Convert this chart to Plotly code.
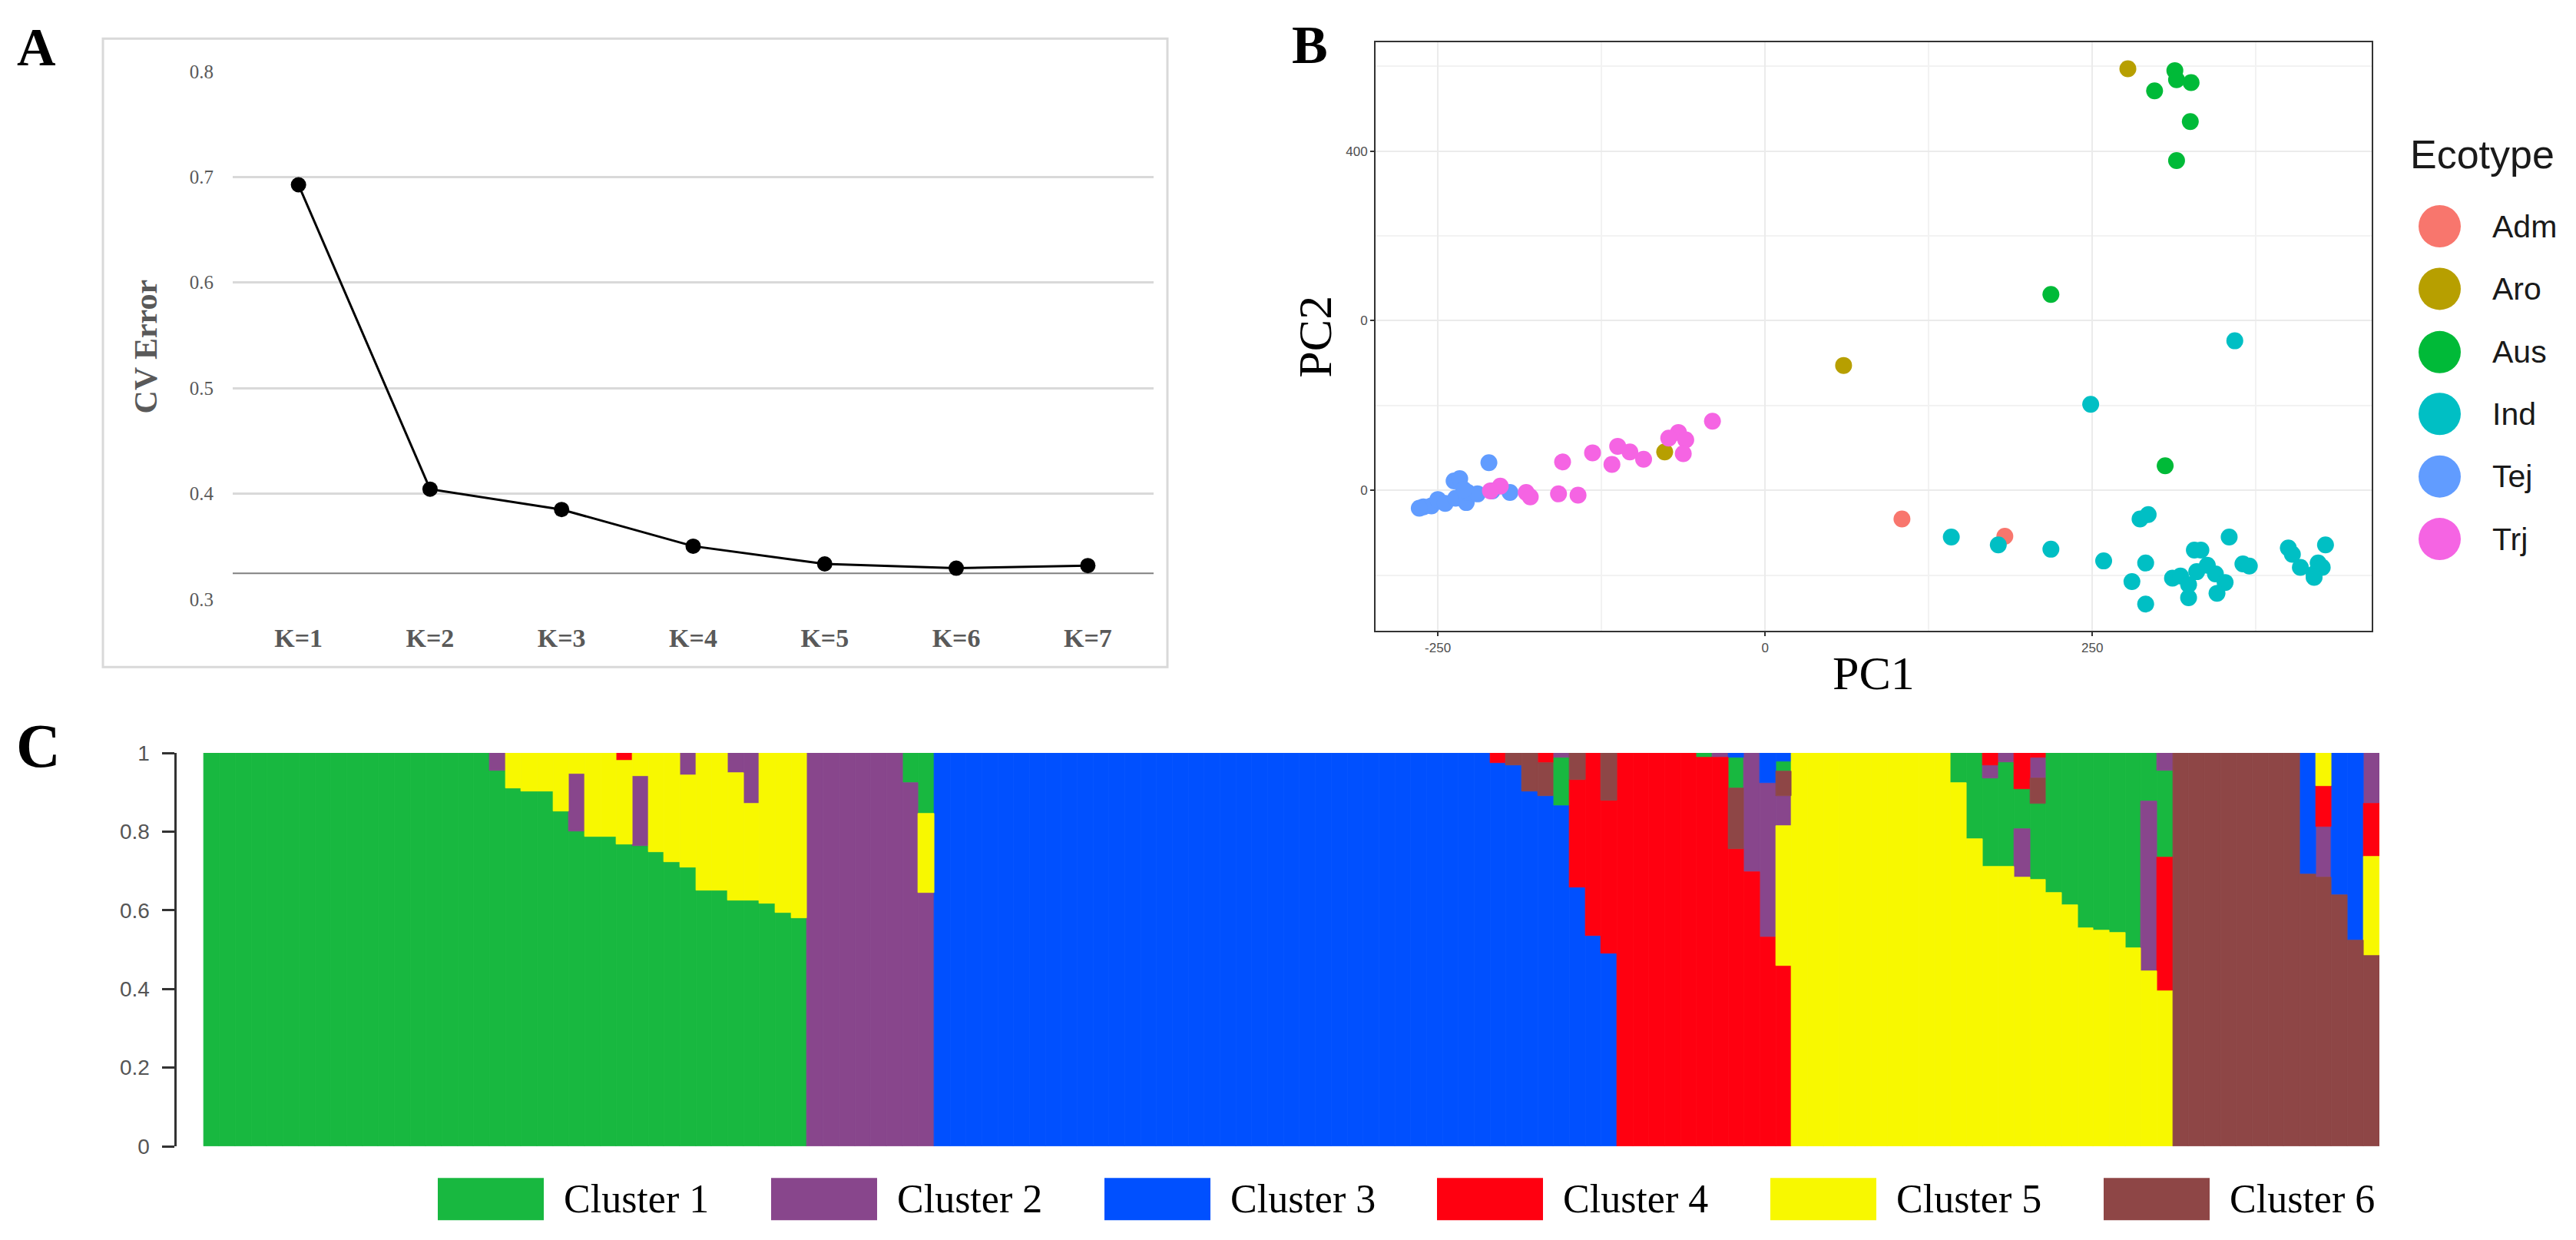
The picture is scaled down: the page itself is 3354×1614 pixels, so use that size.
import plotly.graph_objects as go

W, H = 3354, 1614

# ---------------- Panel A data ----------------
k_labels = ["K=1", "K=2", "K=3", "K=4", "K=5", "K=6", "K=7"]
cv_error = [0.6925, 0.4043, 0.3850, 0.3503, 0.3335, 0.3294, 0.3319]
cv_axis_line = 0.3245
cv_ticks = [0.3, 0.4, 0.5, 0.6, 0.7, 0.8]

# ---------------- Panel B data ----------------
ecotypes = ["Adm", "Aro", "Aus", "Ind", "Tej", "Trj"]
eco_colors = ["#F8766D", "#B79F00", "#00BA38", "#00BFC4", "#619CFF", "#F564E3"]
pc1_adm = [104.6, 183.2]
pc2_adm = [-33.6, -54.0]
pc1_aro = [277.2, 60.0, -76.7]
pc2_aro = [496.9, 147.3, 45.4]
pc1_aus = [313.1, 314.4, 325.5, 297.6, 324.9, 314.4, 218.4, 305.7]
pc2_aus = [494.8, 484.1, 480.6, 470.9, 434.7, 388.8, 230.9, 29.0]
pc1_ind = [358.9, 248.8, 286.5, 292.7, 142.3, 178.2, 218.4, 258.7, 290.8, 280.3,
           290.8, 311.3, 317.4, 323.6, 323.6, 328.0, 333.0, 329.8, 337.9, 344.1,
           351.5, 345.3, 354.6, 365.1, 370.0, 399.8, 402.9, 409.0, 419.5, 422.6,
           425.7, 419.5, 428.2]
pc2_ind = [176.3, 101.4, -33.6, -28.5, -55.0, -64.2, -69.3, -83.1, -85.6, -107.5,
           -134.0, -103.4, -100.9, -111.1, -126.4, -70.3, -70.3, -95.8, -88.2, -98.4,
           -108.5, -121.3, -55.0, -86.6, -89.2, -67.8, -75.4, -90.7, -98.4, -85.6,
           -90.7, -102.4, -64.2]
pc1_tej = [-211.0, -237.6, -233.3, -261.1, -254.9, -250.0, -244.4, -236.4, -228.3,
           -227.1, -219.7, -208.5, -194.9, -230.2, -264.2]
pc2_tej = [32.6, 11.2, 13.8, -19.4, -18.3, -10.7, -15.3, -9.2, -14.3, -2.5, -4.1,
           -0.5, -2.5, 1.0, -20.9]
pc1_trj = [-40.2, -66.2, -73.6, -60.6, -62.5, -92.8, -103.3, -112.6, -117.0, -131.8,
           -154.7, -157.8, -142.9, -182.5, -179.4, -202.3, -209.8]
pc2_trj = [81.5, 68.3, 61.7, 59.6, 43.3, 36.7, 45.4, 52.0, 30.6, 44.3, 33.6, -4.1,
           -5.6, -2.5, -7.6, 5.1, -0.5]
pc1_ticks = [-250, 0, 250]
pc2_ticks = [0, 200, 400]
pc2_ticktext = ["0", "0", "400"]

# ---------------- Panel C data (137 individuals, 6 clusters) ----------------
cluster_names = ["Cluster 1", "Cluster 2", "Cluster 3", "Cluster 4", "Cluster 5", "Cluster 6"]
cluster_colors = ["#18B840", "#88468C", "#0050FF", "#FF0010", "#F8F800", "#8E4646"]

cluster1 = [
    1, 1, 1, 1, 1, 1, 1, 1, 1, 1, 1, 1, 1, 1, 1, 1, 1, 1,
    0.955, 0.910, 0.903, 0.903, 0.852, 0.800, 0.788, 0.788, 0.768, 0.763,
    0.748, 0.722, 0.709, 0.651, 0.651, 0.625, 0.625, 0.618, 0.593, 0.580,
    0, 0, 0, 0, 0, 0, 0.077, 0.154,
    0, 0, 0, 0, 0, 0, 0, 0, 0, 0, 0, 0, 0, 0, 0, 0, 0, 0, 0, 0,
    0, 0, 0, 0, 0, 0, 0, 0, 0, 0, 0, 0, 0, 0, 0,
    0, 0, 0, 0, 0.124, 0, 0, 0,
    0, 0, 0, 0, 0, 0.011, 0, 0.079, 0, 0, 0.025,
    0, 0, 0, 0, 0, 0, 0, 0, 0, 0,
    0.077, 0.219, 0.224, 0.265, 0.103, 0.194, 0.355, 0.387, 0.445, 0.452,
    0.458, 0.496, 0.123, 0.222,
    0, 0, 0, 0, 0, 0, 0, 0, 0, 0, 0, 0, 0,
]
cluster2 = [
    0, 0, 0, 0, 0, 0, 0, 0, 0, 0, 0, 0, 0, 0, 0, 0, 0, 0,
    0.045, 0, 0, 0, 0, 0.147, 0, 0, 0, 0.179,
    0, 0, 0.057, 0, 0, 0.051, 0.128, 0, 0, 0,
    1, 1, 1, 1, 1, 1, 0.923, 0.645,
    0, 0, 0, 0, 0, 0, 0, 0, 0, 0, 0, 0, 0, 0, 0, 0, 0, 0, 0, 0,
    0, 0, 0, 0, 0, 0, 0, 0, 0, 0, 0, 0, 0, 0, 0,
    0, 0, 0, 0, 0.011, 0, 0, 0,
    0, 0, 0, 0, 0, 0, 0.011, 0, 0.303, 0.392, 0.076,
    0, 0, 0, 0, 0, 0, 0, 0, 0, 0,
    0, 0, 0.034, 0.024, 0.122, 0.054, 0, 0, 0, 0,
    0, 0, 0.431, 0.044,
    0, 0, 0, 0, 0, 0, 0, 0, 0, 0.128, 0, 0, 0.128,
]
cluster3 = [
    0, 0, 0, 0, 0, 0, 0, 0, 0, 0, 0, 0, 0, 0, 0, 0, 0, 0,
    0, 0, 0, 0, 0, 0, 0, 0, 0, 0,
    0, 0, 0, 0, 0, 0, 0, 0, 0, 0,
    0, 0, 0, 0, 0, 0, 0, 0,
    1, 1, 1, 1, 1, 1, 1, 1, 1, 1, 1, 1, 1, 1, 1, 1, 1, 1, 1, 1,
    1, 1, 1, 1, 1, 1, 1, 1, 1, 1, 1, 1, 1, 1, 1,
    0.974, 0.969, 0.903, 0.890, 0.865, 0.658, 0.535, 0.491,
    0, 0, 0, 0, 0, 0, 0, 0.011, 0, 0.077, 0.021,
    0, 0, 0, 0, 0, 0, 0, 0, 0, 0,
    0, 0, 0, 0, 0, 0, 0, 0, 0, 0,
    0, 0, 0, 0,
    0, 0, 0, 0, 0, 0, 0, 0, 0.309, 0, 0.362, 0.477, 0,
]
cluster4 = [
    0, 0, 0, 0, 0, 0, 0, 0, 0, 0, 0, 0, 0, 0, 0, 0, 0, 0,
    0, 0, 0, 0, 0, 0, 0, 0, 0.019, 0,
    0, 0, 0, 0, 0, 0, 0, 0, 0, 0,
    0, 0, 0, 0, 0, 0, 0, 0,
    0, 0, 0, 0, 0, 0, 0, 0, 0, 0, 0, 0, 0, 0, 0, 0, 0, 0, 0, 0,
    0, 0, 0, 0, 0, 0, 0, 0, 0, 0, 0, 0, 0, 0, 0,
    0.026, 0, 0, 0.026, 0, 0.273, 0.465, 0.387,
    1, 1, 1, 1, 1, 0.989, 0.989, 0.756, 0.697, 0.531, 0.458,
    0, 0, 0, 0, 0, 0, 0, 0, 0, 0,
    0, 0, 0.031, 0, 0.091, 0.011, 0, 0, 0, 0,
    0, 0, 0, 0.340,
    0, 0, 0, 0, 0, 0, 0, 0, 0, 0.104, 0, 0, 0.136,
]
cluster5 = [
    0, 0, 0, 0, 0, 0, 0, 0, 0, 0, 0, 0, 0, 0, 0, 0, 0, 0,
    0, 0.090, 0.097, 0.097, 0.148, 0.053, 0.212, 0.212, 0.213, 0.058,
    0.252, 0.278, 0.234, 0.349, 0.349, 0.324, 0.247, 0.382, 0.407, 0.420,
    0, 0, 0, 0, 0, 0, 0, 0.201,
    0, 0, 0, 0, 0, 0, 0, 0, 0, 0, 0, 0, 0, 0, 0, 0, 0, 0, 0, 0,
    0, 0, 0, 0, 0, 0, 0, 0, 0, 0, 0, 0, 0, 0, 0,
    0, 0, 0, 0, 0, 0, 0, 0,
    0, 0, 0, 0, 0, 0, 0, 0, 0, 0, 0.356,
    1, 1, 1, 1, 1, 1, 1, 1, 1, 1,
    0.923, 0.781, 0.711, 0.711, 0.684, 0.678, 0.645, 0.613, 0.555, 0.548,
    0.542, 0.504, 0.446, 0.394,
    0, 0, 0, 0, 0, 0, 0, 0, 0, 0.084, 0, 0, 0.252,
]
cluster6 = [
    0, 0, 0, 0, 0, 0, 0, 0, 0, 0, 0, 0, 0, 0, 0, 0, 0, 0,
    0, 0, 0, 0, 0, 0, 0, 0, 0, 0,
    0, 0, 0, 0, 0, 0, 0, 0, 0, 0,
    0, 0, 0, 0, 0, 0, 0, 0,
    0, 0, 0, 0, 0, 0, 0, 0, 0, 0, 0, 0, 0, 0, 0, 0, 0, 0, 0, 0,
    0, 0, 0, 0, 0, 0, 0, 0, 0, 0, 0, 0, 0, 0, 0,
    0, 0.031, 0.097, 0.084, 0, 0.069, 0, 0.122,
    0, 0, 0, 0, 0, 0, 0, 0.154, 0, 0, 0.064,
    0, 0, 0, 0, 0, 0, 0, 0, 0, 0,
    0, 0, 0, 0, 0, 0.063, 0, 0, 0, 0,
    0, 0, 0, 0,
    1, 1, 1, 1, 1, 1, 1, 1, 0.691, 0.684, 0.638, 0.523, 0.484,
]
q_ticks = [0, 0.2, 0.4, 0.6, 0.8, 1]
q_ticktext = ["0", "0.2", "0.4", "0.6", "0.8", "1"]

clusters = [cluster1, cluster2, cluster3, cluster4, cluster5, cluster6]
n_ind = len(cluster1)
for c in clusters:
    assert len(c) == n_ind, len(c)


def px(x):
    return x / W


def py(y):
    return 1 - y / H


SERIF = "Liberation Serif, Times New Roman, serif"
SANS = "Liberation Sans, Arial, sans-serif"

fig = go.Figure()

# ---------------- Panel A ----------------
fig.add_trace(go.Scatter(
    x=k_labels, y=cv_error, mode="lines+markers",
    line=dict(color="black", width=3),
    marker=dict(color="black", size=20),
    xaxis="x", yaxis="y", showlegend=False,
))

# ---------------- Panel B ----------------
pcs = [(pc1_adm, pc2_adm), (pc1_aro, pc2_aro), (pc1_aus, pc2_aus),
       (pc1_ind, pc2_ind), (pc1_tej, pc2_tej), (pc1_trj, pc2_trj)]
for (xs, ys), name, col in zip(pcs, ecotypes, eco_colors):
    fig.add_trace(go.Scatter(
        x=xs, y=ys, mode="markers", name=name,
        marker=dict(color=col, size=22, line=dict(width=0)),
        xaxis="x2", yaxis="y2", showlegend=False,
    ))

# ---------------- Panel C ----------------
# stacking: within each individual, the largest component sits at the bottom
bases = [[0.0] * n_ind for _ in clusters]
for i in range(n_ind):
    order = sorted(range(len(clusters)), key=lambda j: -clusters[j][i])
    cum = 0.0
    for j in order:
        bases[j][i] = cum
        cum += clusters[j][i]

for j, (vals, name, col) in enumerate(zip(clusters, cluster_names, cluster_colors)):
    idx = [i for i in range(n_ind) if vals[i] > 0]
    fig.add_trace(go.Bar(
        x=idx, y=[vals[i] for i in idx], base=[bases[j][i] for i in idx],
        width=1.0, name=name,
        marker=dict(color=col, line=dict(color=col, width=0.8)),
        xaxis="x3", yaxis="y3", showlegend=False,
    ))

shapes = []
annotations = []


def note(text, x, y, size, family, color="black", xanchor="center", angle=0):
    annotations.append(dict(text=text, x=px(x), y=py(y), xref="paper", yref="paper",
                            xanchor=xanchor, yanchor="middle", showarrow=False,
                            textangle=angle,
                            font=dict(family=family, size=size, color=color)))


# Panel A frame and the dark horizontal line
shapes.append(dict(type="rect", xref="paper", yref="paper",
                   x0=px(134), x1=px(1520), y0=py(870), y1=py(36),
                   line=dict(color="#D9D9D9", width=3), layer="below"))
shapes.append(dict(type="line", xref="x domain", yref="y", x0=0, x1=1,
                   y0=cv_axis_line, y1=cv_axis_line,
                   line=dict(color="#808080", width=2), layer="below"))

note("<b>CV Error</b>", 190, 445, 42, SERIF, "#595959", angle=-90)

# Panel letters
note("<b>A</b>", 47, 47, 70, SERIF)
note("<b>B</b>", 1706, 44, 70, SERIF)
note("<b>C</b>", 50, 975, 80, SERIF)

# Panel B axis titles
note("PC1", 2439, 878, 62, SERIF)
note("PC2", 1712, 432, 62, SERIF, angle=-90)

# Panel B legend
note("Ecotype", 3136, 190, 52, SANS, "#1A1A1A", xanchor="left")
leg_y = [285, 368, 452, 534, 617, 700]
for name, col, yy in zip(ecotypes, eco_colors, leg_y):
    shapes.append(dict(type="circle", xref="paper", yref="paper",
                       xsizemode="pixel", ysizemode="pixel",
                       xanchor=px(3176.5), yanchor=py(yy),
                       x0=-27.5, x1=27.5, y0=-27.5, y1=27.5,
                       fillcolor=col, line=dict(width=0)))
    note(name, 3243, yy, 41, SANS, "#1A1A1A", xanchor="left")

# Panel C legend
box_x = [570, 1004, 1438, 1871, 2305, 2739]
for name, col, bx in zip(cluster_names, cluster_colors, box_x):
    shapes.append(dict(type="rect", xref="paper", yref="paper",
                       x0=px(bx), x1=px(bx + 138), y0=py(1604), y1=py(1548),
                       fillcolor=col, line=dict(width=0)))
    note(name, bx + 162, 1576, 52, SERIF, "black", xanchor="left")

fig.update_layout(
    width=W, height=H,
    margin=dict(l=0, r=0, t=0, b=0),
    paper_bgcolor="white", plot_bgcolor="white",
    showlegend=False, barmode="overlay", bargap=0,
    shapes=shapes, annotations=annotations,
    # Panel A
    xaxis=dict(domain=[px(303), px(1502)], anchor="y", type="category",
               range=[-0.5, 6.5], showgrid=False, zeroline=False, showline=False,
               ticks="", ticklabelstandoff=26,
               tickfont=dict(family=SERIF, size=34, color="#595959", weight="bold")),
    yaxis=dict(domain=[py(780.7), py(78.6)], anchor="x", range=[0.2995, 0.8005],
               tickvals=cv_ticks, tickformat=".1f", showgrid=True,
               gridcolor="#D9D9D9", gridwidth=3, zeroline=False, showline=False,
               ticks="", ticklabelstandoff=24,
               tickfont=dict(family=SERIF, size=25, color="#595959")),
    # Panel B
    xaxis2=dict(domain=[px(1791), px(3088)], anchor="y2", range=[-297.6, 463.5],
                tickvals=pc1_ticks, ticktext=[str(v) for v in pc1_ticks],
                showgrid=True, gridcolor="#EBEBEB", gridwidth=2,
                minor=dict(tickvals=[-125, 125, 375], showgrid=True,
                           gridcolor="#F2F2F2", gridwidth=1.5, ticks=""),
                zeroline=False, showline=True, mirror=True, linecolor="#333333",
                linewidth=2, ticks="outside", ticklen=5, tickwidth=1.5,
                tickcolor="#333333",
                tickfont=dict(family=SANS, size=17, color="#4D4D4D")),
    yaxis2=dict(domain=[py(822), py(41)], anchor="x2", range=[-165.6, 528],
                tickvals=pc2_ticks, ticktext=pc2_ticktext,
                showgrid=True, gridcolor="#EBEBEB", gridwidth=2,
                minor=dict(tickvals=[-100, 100, 300, 500], showgrid=True,
                           gridcolor="#F2F2F2", gridwidth=1.5, ticks=""),
                zeroline=False, showline=True, mirror=True, linecolor="#333333",
                linewidth=2, ticks="outside", ticklen=5, tickwidth=1.5,
                tickcolor="#333333",
                tickfont=dict(family=SANS, size=17, color="#4D4D4D")),
    # Panel C
    xaxis3=dict(domain=[px(229.5), px(3098)], anchor="y3", range=[-2.23, 136.5],
                visible=False, showgrid=False, zeroline=False),
    yaxis3=dict(domain=[py(1506), py(984)], anchor="x3", range=[0, 1],
                tickvals=q_ticks, ticktext=q_ticktext, showgrid=False,
                zeroline=False, showline=True, linecolor="#333333", linewidth=3,
                ticks="outside", ticklen=16, tickwidth=3, tickcolor="#333333",
                ticklabelstandoff=10,
                tickfont=dict(family=SANS, size=28, color="#555555")),
)

fig.write_html("out.html")
